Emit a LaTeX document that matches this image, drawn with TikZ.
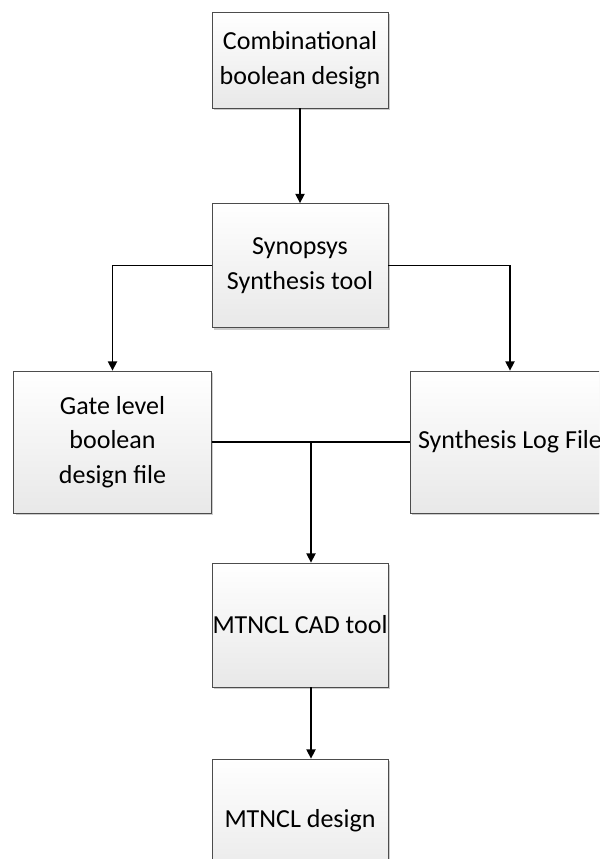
\documentclass[tikz,border=0pt]{standalone}
\usepackage{fontspec}
\setmainfont{Carlito}
\usetikzlibrary{arrows.meta,shadows}
\begin{document}
\begin{tikzpicture}[x=0.75pt,y=-0.75pt,
  flowbox/.style={draw=black!70, line width=0.6pt, top color=white, bottom color=black!9,
    drop shadow={shadow xshift=1.5pt, shadow yshift=-1.5pt, fill=black!25, opacity=0.8},
    align=center, font=\fontsize{19.5}{26}\selectfont, inner sep=0pt},
  link/.style={line width=1.1pt, -{Triangle[length=7pt,width=7pt]}},
  plain/.style={line width=1.1pt}]
\useasboundingbox (0,0) rectangle (599,859);
\clip (0,0) rectangle (599,859);
% boxes, sized in pixels
\node[flowbox, minimum width=132pt, minimum height=72pt] (comb) at (300,60) {Combinational\\boolean design};
\node[flowbox, minimum width=132pt, minimum height=93pt] (syn) at (300,265.5) {Synopsys\\Synthesis tool};
\node[flowbox, minimum width=148pt, minimum height=106.5pt] (gate) at (112.5,442) {Gate level\\boolean\\design file};
\node[flowbox, minimum width=150pt, minimum height=106.5pt] (log) at (510,442) {Synthesis Log File};
\node[flowbox, minimum width=132pt, minimum height=93pt] (cad) at (300,625) {MTNCL CAD tool};
\node[flowbox, minimum width=132pt, minimum height=93pt] (des) at (300,821) {MTNCL design};
% connectors
\draw[link] (comb.south) -- (syn.north);
\draw[link] (syn.west) -| (gate.north);
\draw[link] (syn.east) -| (log.north);
\coordinate (join) at (311,442);
\draw[plain] (gate.east) -- (log.west);
\draw[link] (join) -- (join |- cad.north);
\draw[link] (cad.south -| join) -- (des.north -| join);
\end{tikzpicture}
\end{document}
